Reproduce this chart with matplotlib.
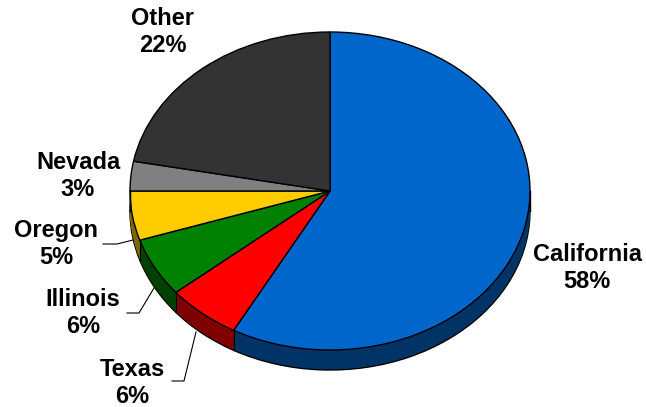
import numpy as np
from matplotlib import pyplot as plt

# datos
states = ["California", "Texas", "Illinois", "Oregon", "Nevada", "Other"]
shares = [58, 6, 6, 5, 3, 22]
top_colors = ["#0066CC", "#FF0000", "#008000", "#FFCC00", "#808080", "#333333"]
side_colors = ["#003366", "#800000", "#004000", "#806600", "#404040", "#1A1A1A"]

# geometria en pixeles (centro, radios, grosor)
CX, CY, RX, RY, DEPTH = 330, 191, 200, 159, 20
W, H = 646, 407


def px2d(px, py):
    return (px - CX) / RX, (CY - py) / RY


fig = plt.figure(figsize=(W / 100, H / 100), dpi=100)
ax = fig.add_axes([0, 0, 1, 1])

depth = DEPTH / RY
nlay = DEPTH

# pared lateral: pies apilados
for k in range(nlay, 0, -1):
    off = -depth * k / nlay
    if k == nlay:
        ax.pie(shares, colors=side_colors, startangle=90, counterclock=False,
               center=(0, off), wedgeprops=dict(edgecolor="black", linewidth=1.0))
    else:
        ax.pie(shares, colors=side_colors, startangle=90, counterclock=False,
               center=(0, off), wedgeprops=dict(edgecolor="none", linewidth=0))

# lineas verticales en los bordes de la pared
cum = 90 - 3.6 * np.cumsum([0] + shares)
for a in cum:
    t = np.deg2rad(a)
    if np.sin(t) < 0:
        ax.plot([np.cos(t)] * 2, [np.sin(t), np.sin(t) - depth], color="black", lw=0.8)
ax.plot([1, 1], [0, -depth], color="black", lw=1)
ax.plot([-1, -1], [0, -depth], color="black", lw=1)

# cara superior
ax.pie(shares, colors=top_colors, startangle=90, counterclock=False,
       wedgeprops=dict(edgecolor="black", linewidth=1.0))

# etiquetas
label_pos = {
    "California": (587, 268),
    "Texas": (132, 383),
    "Illinois": (83, 313),
    "Oregon": (56, 244),
    "Nevada": (78, 176),
    "Other": (163, 32),
}
for name, val in zip(states, shares):
    x, y = px2d(*label_pos[name])
    ax.text(x, y, f"{name}\n{val}%", ha="center", va="center", multialignment="center",
            fontsize=17, fontweight="bold", family="Liberation Sans", linespacing=1.2)

# lineas guia
leaders = {
    "Oregon": [(103, 244), (117, 244), (133, 240)],
    "Illinois": [(127, 313), (139, 313), (154, 288)],
    "Texas": [(172, 381), (184, 381), (196, 332)],
}
for name, pts in leaders.items():
    xs, ys = zip(*[px2d(*p) for p in pts])
    ax.plot(xs, ys, color="black", lw=0.8)

ax.set_aspect("auto")
ax.set_xlim(px2d(0, 0)[0], px2d(W, 0)[0])
ax.set_ylim(px2d(0, H)[1], px2d(0, 0)[1])
ax.axis("off")

fig.savefig("out.png", dpi=100)
